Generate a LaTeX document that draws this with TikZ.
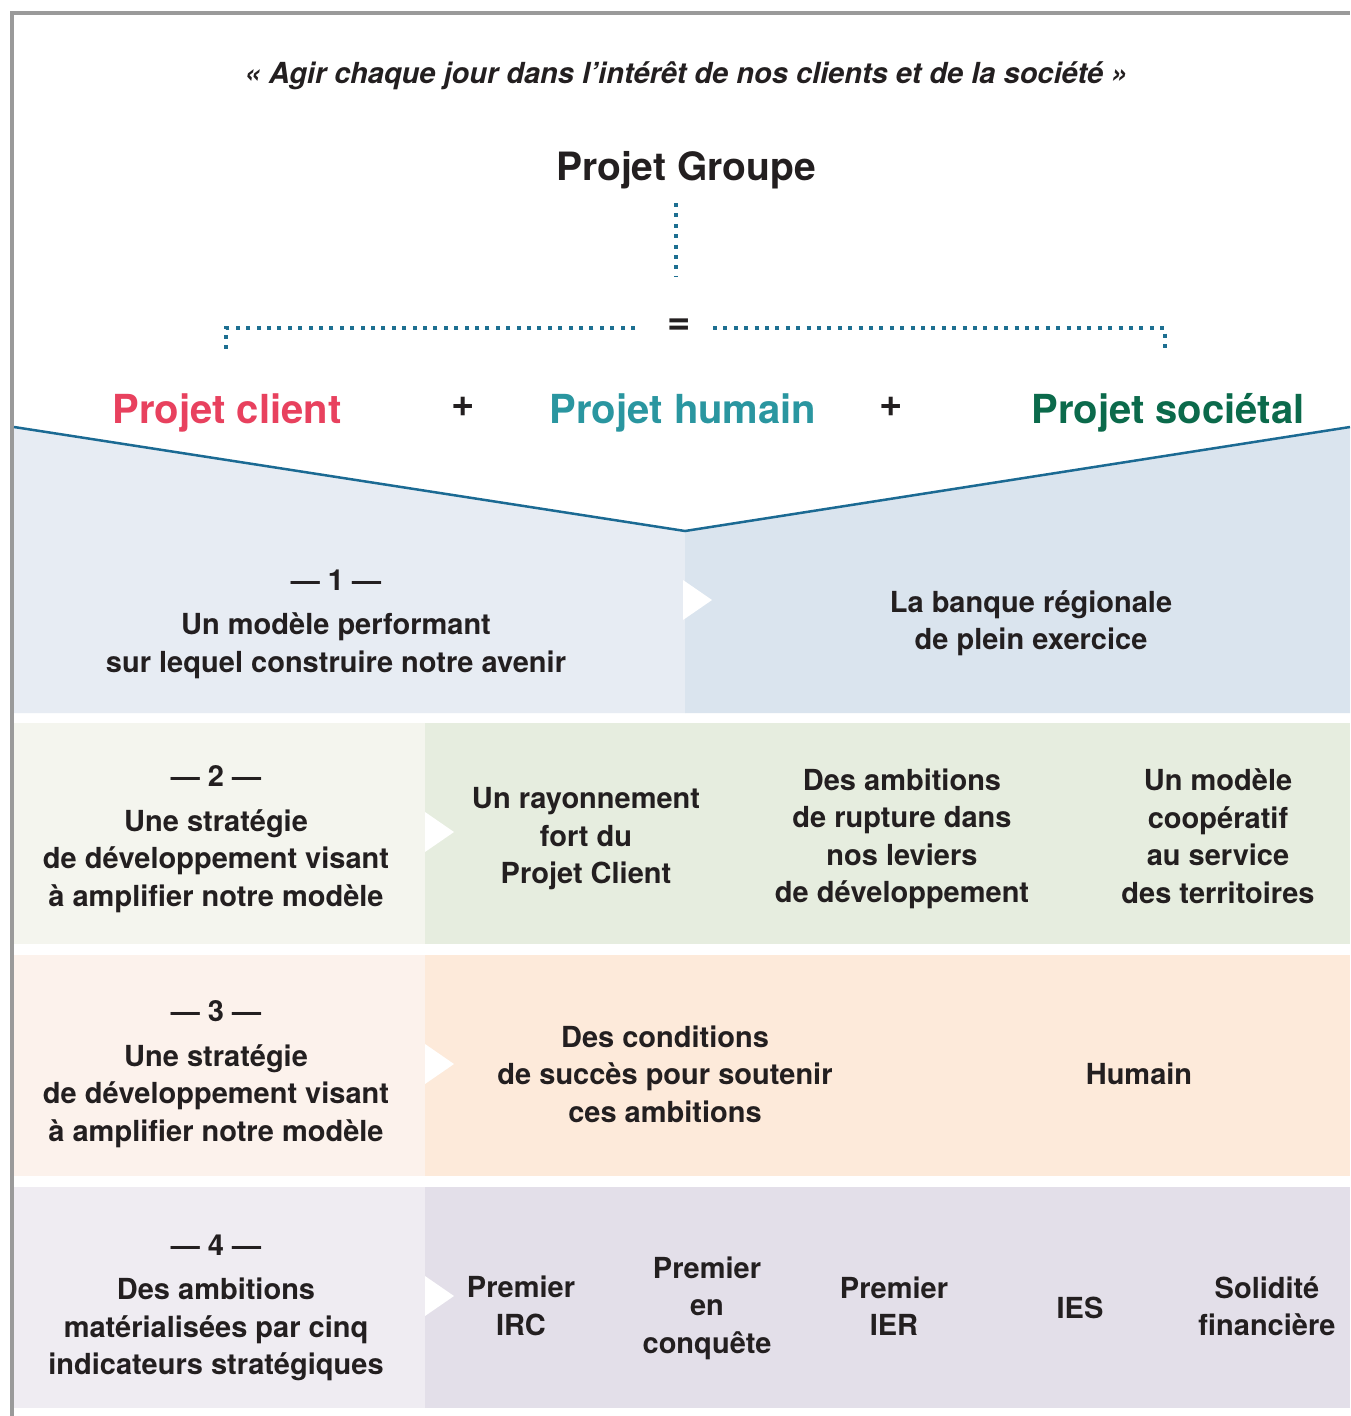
\documentclass[tikz,border=0pt]{standalone}
\usepackage{fontspec}
\setmainfont{TeX Gyre Heros}
\begin{document}
\definecolor{ink}{HTML}{231F20}
\definecolor{frame}{HTML}{9A9A9A}
\definecolor{dotblue}{HTML}{1D6F91}
\definecolor{lineblue}{HTML}{1B6A93}
\definecolor{cred}{HTML}{E8415E}
\definecolor{cteal}{HTML}{2A96A0}
\definecolor{cgreen}{HTML}{0B6A4B}
\definecolor{rowAl}{HTML}{E7ECF3}
\definecolor{rowAr}{HTML}{DAE4EE}
\definecolor{rowBl}{HTML}{F4F5EE}
\definecolor{rowBr}{HTML}{E6EDDF}
\definecolor{rowCl}{HTML}{FCF2EC}
\definecolor{rowCr}{HTML}{FDEADA}
\definecolor{rowDl}{HTML}{EFECF2}
\definecolor{rowDr}{HTML}{E3DFE9}
\begin{tikzpicture}[x=1pt,y=-1pt,
  body/.style={text=ink,align=center,font=\bfseries\fontsize{29}{37.5}\selectfont,inner sep=0pt},
  title/.style={inner sep=0pt,font=\bfseries\fontsize{40}{48}\selectfont},
  sign/.style={text=ink,inner sep=0pt,font=\bfseries\fontsize{40}{46}\selectfont},
  dotline/.style={dotblue,line width=4pt,dash pattern=on 4pt off 6.4pt},
  pointer/.style={fill=white,draw=none}]
\useasboundingbox (0,0) rectangle (1350,1416);
\fill[white] (0,0) rectangle (1350,1416);

% outer frame
\draw[frame,line width=4pt] (12,1416) -- (12,13) -- (1350,13);

% band 1 with the funnel edge
\fill[rowAl] (14,427) -- (685,531) -- (685,713) -- (14,713) -- cycle;
\fill[rowAr] (685,531) -- (1350,427) -- (1350,713) -- (685,713) -- cycle;
\draw[lineblue,line width=2.5pt] (14,427) -- (685,531) -- (1350,427);
% bands 2-4
\fill[rowBl] (14,723) rectangle (425,944);
\fill[rowBr] (425,723) rectangle (1350,944);
\fill[rowCl] (14,955) rectangle (425,1176);
\fill[rowCr] (425,955) rectangle (1350,1176);
\fill[rowDl] (14,1187) rectangle (425,1408);
\fill[rowDr] (425,1187) rectangle (1350,1408);

% white pointers
\fill[pointer] (683,580) -- (712,600) -- (683,620) -- cycle;
\fill[pointer] (425,812) -- (454,832) -- (425,852) -- cycle;
\fill[pointer] (425,1044) -- (454,1064) -- (425,1084) -- cycle;
\fill[pointer] (425,1276) -- (454,1296) -- (425,1316) -- cycle;

% heading
\node[text=ink,inner sep=0pt,font=\bfseries\itshape\fontsize{29}{34}\selectfont] (motto) at (686,76)
  {« Agir chaque jour dans l’intérêt de nos clients et de la société »};
\node[title,text=ink,font=\bfseries\fontsize{39}{46}\selectfont] (groupe) at (686,170) {Projet Groupe};
\node[sign] (eq) at (679,327) {=};

\coordinate (vtop) at (676,203);
\coordinate (vbot) at (676,276);
\coordinate (lin) at (635,328);
\coordinate (lout) at (226,328);
\coordinate (lend) at (226,350);
\coordinate (rin) at (713,328);
\coordinate (rout) at (1165,328);
\coordinate (rend) at (1165,350);
\draw[dotline] (vtop) -- (vbot);
\draw[dotline] (lin) -- (lout) -- (lend);
\draw[dotline] (rin) -- (rout) -- (rend);

\node[title,text=cred] (pclient) at (227,413) {Projet client};
\node[sign] (plus1) at (463,407) {+};
\node[title,text=cteal] (phumain) at (683,413) {Projet humain};
\node[sign] (plus2) at (891,407) {+};
\node[title,text=cgreen] (psocietal) at (1168,413) {Projet sociétal};

% band 1
\node[body] (n1) at (336,624) {— 1 —\\[7pt]Un modèle performant\\sur lequel construire notre avenir};
\node[body] (b1) at (1031,623) {La banque régionale\\de plein exercice};

% band 2
\node[body] (n2) at (216,839) {— 2 —\\[7pt]Une stratégie\\de développement visant\\à amplifier notre modèle};
\node[body] (b2a) at (586,839) {Un rayonnement\\fort du\\Projet Client};
\node[body] (b2b) at (902,839) {Des ambitions\\de rupture dans\\nos leviers\\de développement};
\node[body] (b2c) at (1218,836) {Un modèle\\coopératif\\au service\\des territoires};

% band 3
\node[body] (n3) at (216,1074) {— 3 —\\[7pt]Une stratégie\\de développement visant\\à amplifier notre modèle};
\node[body] (b3a) at (665,1074) {Des conditions\\de succès pour soutenir\\ces ambitions};
\node[body] (b3b) at (1139,1074) {Humain};

% band 4
\node[body] (n4) at (216,1308) {— 4 —\\[7pt]Des ambitions\\matérialisées par cinq\\indicateurs stratégiques};
\node[body] (b4a) at (521,1306) {Premier\\IRC};
\node[body] (b4b) at (707,1308) {Premier\\en\\conquête};
\node[body] (b4c) at (894,1306) {Premier\\IER};
\node[body] (b4d) at (1080,1308) {IES};
\node[body] (b4e) at (1267,1306) {Solidité\\financière};
\end{tikzpicture}
\end{document}
